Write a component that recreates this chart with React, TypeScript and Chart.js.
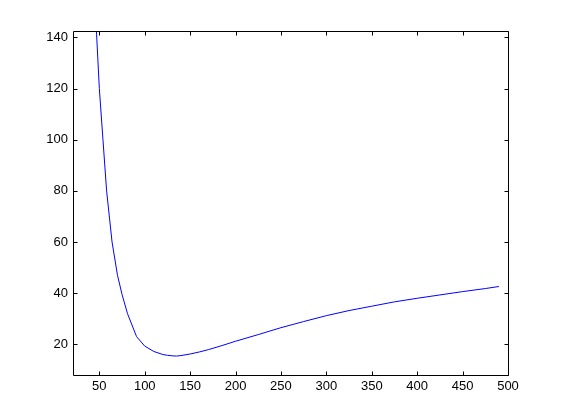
import React, { useEffect, useRef } from "react";
import { Chart, registerables } from "chart.js";

Chart.register(...registerables);

const xValues = [40, 45, 47, 50, 54, 58, 64, 70, 75, 81, 91, 100, 110, 120, 125, 130, 135, 140, 150, 160, 170, 185, 200, 225, 250, 275, 300, 325, 350, 375, 400, 425, 450, 475, 490];
const yValues = [190, 152, 141, 120, 100, 80, 60, 47, 39.5, 32, 23, 19.3, 17.2, 16, 15.7, 15.5, 15.4, 15.6, 16.2, 17.0, 17.9, 19.5, 21.2, 23.8, 26.5, 28.9, 31.2, 33.2, 34.9, 36.6, 38, 39.3, 40.6, 41.8, 42.6];
const xTicks = [50, 100, 150, 200, 250, 300, 350, 400, 450, 500];
const yTicks = [20, 40, 60, 80, 100, 120, 140];

const boxPlugin = {
  id: "matlabBox",
  afterDraw(chart: any) {
    const { ctx, chartArea } = chart;
    const { left, right, top, bottom } = chartArea;
    const xs = chart.scales.x;
    const ys = chart.scales.y;
    ctx.save();
    ctx.strokeStyle = "#000";
    ctx.lineWidth = 1;
    const L = Math.round(left) + 0.5;
    const R = Math.round(right) + 0.5;
    const T = Math.round(top) + 0.5;
    const B = Math.round(bottom) + 0.5;
    ctx.beginPath();
    ctx.rect(L, T, R - L, B - T);
    const tl = 4;
    xTicks.forEach((v) => {
      const px = Math.round(xs.getPixelForValue(v)) + 0.5;
      ctx.moveTo(px, B);
      ctx.lineTo(px, B - tl);
      ctx.moveTo(px, T);
      ctx.lineTo(px, T + tl);
    });
    yTicks.forEach((v) => {
      const py = Math.round(ys.getPixelForValue(v)) + 0.5;
      ctx.moveTo(L, py);
      ctx.lineTo(L + tl, py);
      ctx.moveTo(R, py);
      ctx.lineTo(R - tl, py);
    });
    ctx.stroke();
    ctx.restore();
  },
};

export default function App() {
  const ref = useRef<HTMLCanvasElement>(null);
  useEffect(() => {
    const data = xValues.map((x, i) => ({ x, y: yValues[i] }));
    const chart = new Chart(ref.current!, {
      type: "scatter",
      data: {
        datasets: [
          {
            data,
            showLine: true,
            borderColor: "rgb(0,0,255)",
            borderWidth: 1,
            pointRadius: 0,
            tension: 0,
          } as any,
        ],
      },
      options: {
        animation: false,
        responsive: false,
        maintainAspectRatio: false,
        layout: { padding: { left: 0, top: 31, right: 53, bottom: 0 } },
        plugins: { legend: { display: false }, tooltip: { enabled: false } },
        scales: {
          x: {
            type: "linear",
            min: 21,
            max: 500,
            grid: { display: false, drawTicks: false, tickLength: 0 },
            border: { display: false },
            afterBuildTicks: (s: any) => {
              s.ticks = xTicks.map((v) => ({ value: v }));
            },
            afterFit: (s: any) => {
              s.height = 45;
            },
            ticks: {
              color: "#000",
              padding: 4,
              maxRotation: 0,
              autoSkip: false,
              font: { family: "Liberation Sans, Arial, sans-serif", size: 13 },
            },
          },
          y: {
            type: "linear",
            min: 8,
            max: 142.5,
            grid: { display: false, drawTicks: false, tickLength: 0 },
            border: { display: false },
            afterBuildTicks: (s: any) => {
              s.ticks = yTicks.map((v) => ({ value: v }));
            },
            afterFit: (s: any) => {
              s.width = 73;
            },
            ticks: {
              color: "#000",
              padding: 5,
              autoSkip: false,
              font: { family: "Liberation Sans, Arial, sans-serif", size: 13 },
            },
          },
        },
      },
      plugins: [boxPlugin],
    });
    return () => chart.destroy();
  }, []);
  return (
    <div style={{ position: "fixed", left: 0, top: 0, width: 561, height: 420, background: "#fff" }}>
      <canvas ref={ref} width={561} height={420} style={{ width: 561, height: 420 }} />
    </div>
  );
}
